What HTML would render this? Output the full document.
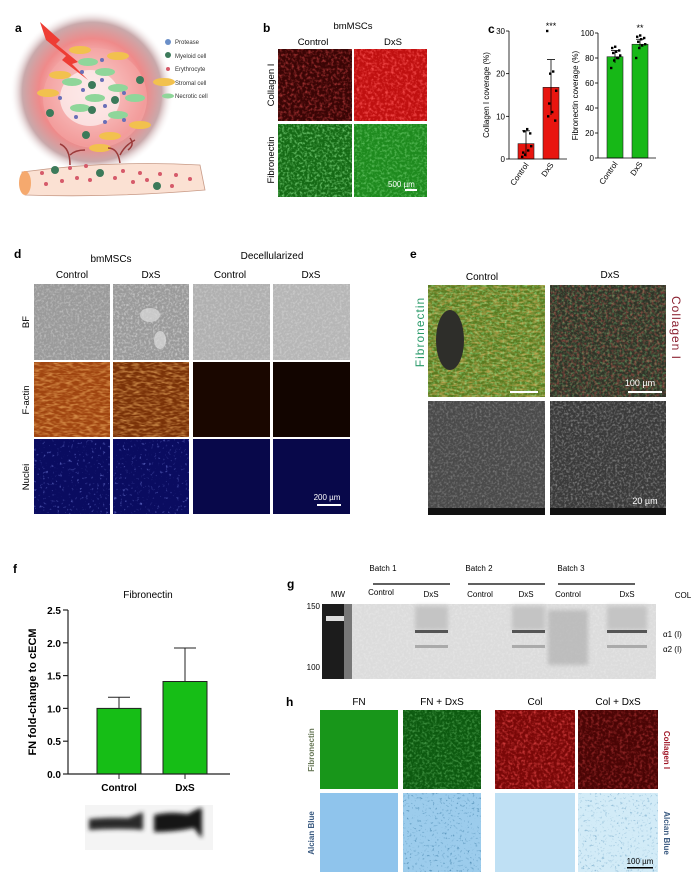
<!DOCTYPE html>
<html><head><meta charset="utf-8"><style>
html,body{margin:0;padding:0;background:#fff;}
svg{display:block;font-family:"Liberation Sans",sans-serif;}
</style></head><body>
<svg id="fig" width="700" height="883" viewBox="0 0 700 883" xmlns="http://www.w3.org/2000/svg">
<defs>
<radialGradient id="glow" cx="0.5" cy="0.5" r="0.5">
<stop offset="0" stop-color="#fff"/><stop offset="0.35" stop-color="#f8c8c8"/><stop offset="0.65" stop-color="#ef8a8a"/><stop offset="0.85" stop-color="#c9a9ab"/><stop offset="1" stop-color="#fff" stop-opacity="0"/></radialGradient>
<filter id="nR" x="0" y="0" width="1" height="1"><feTurbulence type="fractalNoise" baseFrequency="0.35" numOctaves="2" seed="3"/><feColorMatrix values="0 0 0 0 1  0 0 0 0 0.1  0 0 0 0 0.1  2.5 0 0 0 -1.1"/></filter>
<filter id="nG" x="0" y="0" width="1" height="1"><feTurbulence type="fractalNoise" baseFrequency="0.4" numOctaves="2" seed="5"/><feColorMatrix values="0 0 0 0 0.3  0 0 0 0 0.85  0 0 0 0 0.3  2.5 0 0 0 -1.1"/></filter>
<filter id="nO" x="0" y="0" width="1" height="1"><feTurbulence type="fractalNoise" baseFrequency="0.15 0.45" numOctaves="2" seed="7"/><feColorMatrix values="0 0 0 0 0.95  0 0 0 0 0.5  0 0 0 0 0.15  2.5 0 0 0 -1.0"/></filter>
<filter id="nW" x="0" y="0" width="1" height="1"><feTurbulence type="fractalNoise" baseFrequency="0.45" numOctaves="2" seed="9"/><feColorMatrix values="0 0 0 0 1  0 0 0 0 1  0 0 0 0 1  2.5 0 0 0 -1.1"/></filter>
<filter id="nD" x="0" y="0" width="1" height="1"><feTurbulence type="fractalNoise" baseFrequency="0.4" numOctaves="2" seed="11"/><feColorMatrix values="0 0 0 0 0.1  0 0 0 0 0.3  0 0 0 0 0.5  4 0 0 0 -2.4"/></filter>
<filter id="nB" x="0" y="0" width="1" height="1"><feTurbulence type="fractalNoise" baseFrequency="0.35" numOctaves="2" seed="13"/><feColorMatrix values="0 0 0 0 0.25  0 0 0 0 0.3  0 0 0 0 0.9  4 0 0 0 -2.5"/></filter>
<filter id="blur"><feGaussianBlur stdDeviation="2"/></filter>
</defs>

<!-- Panel a -->
<g>
<text x="15" y="32" font-size="12" font-weight="bold">a</text>
<circle cx="92" cy="92" r="82" fill="url(#glow)"/>
<ellipse cx="95" cy="98" rx="52" ry="50" fill="#f5a9a6" opacity="0.6"/>
<ellipse cx="90" cy="98" rx="30" ry="28" fill="#fff" opacity="0.6"/>
<polygon points="40,22 60,40 56,44 78,62 72,64 88,80 62,60 66,56 46,40" fill="#ee3d34"/>
<g fill="#f2c14e"><ellipse cx="80" cy="50" rx="11" ry="4"/><ellipse cx="118" cy="56" rx="11" ry="4"/><ellipse cx="60" cy="75" rx="11" ry="4"/><ellipse cx="48" cy="93" rx="11" ry="4"/><ellipse cx="140" cy="125" rx="11" ry="4"/><ellipse cx="110" cy="136" rx="11" ry="4"/><ellipse cx="100" cy="148" rx="11" ry="4"/><ellipse cx="164" cy="82" rx="11" ry="4"/></g>
<g fill="#8fd69a"><ellipse cx="88" cy="62" rx="10" ry="4"/><ellipse cx="105" cy="72" rx="10" ry="4"/><ellipse cx="72" cy="82" rx="10" ry="4"/><ellipse cx="118" cy="88" rx="10" ry="4"/><ellipse cx="95" cy="98" rx="10" ry="4"/><ellipse cx="135" cy="98" rx="10" ry="4"/><ellipse cx="118" cy="115" rx="10" ry="4"/><ellipse cx="80" cy="108" rx="10" ry="4"/></g>
<g fill="#3c7a5a"><circle cx="92" cy="85" r="4"/><circle cx="140" cy="80" r="4"/><circle cx="115" cy="100" r="4"/><circle cx="92" cy="110" r="4"/><circle cx="50" cy="113" r="4"/><circle cx="86" cy="135" r="4"/></g>
<g fill="#6a6fb8"><circle cx="102" cy="60" r="2"/><circle cx="82" cy="72" r="2"/><circle cx="102" cy="80" r="2"/><circle cx="83" cy="90" r="2"/><circle cx="60" cy="98" r="2"/><circle cx="124" cy="93" r="2"/><circle cx="105" cy="106" r="2"/><circle cx="76" cy="117" r="2"/><circle cx="105" cy="122" r="2"/><circle cx="124" cy="120" r="2"/></g>
<g stroke="#9b3a3a" stroke-width="1.5" fill="none"><path d="M70 165 Q70 148 60 144 M70 155 Q75 150 85 150"/><path d="M120 163 Q118 148 108 148 M120 155 Q125 145 135 140 M128 150 Q135 145 130 138"/></g>
<path d="M22 172 Q110 160 200 165 L205 190 Q110 198 25 195 Z" fill="#fbe1d3" stroke="#c89a86" stroke-width="0.8"/>
<ellipse cx="25" cy="183" rx="6" ry="12" fill="#f5a96e"/>
<g fill="#d65a6a"><circle cx="42" cy="173" r="2"/><circle cx="46" cy="184" r="2"/><circle cx="62" cy="181" r="2"/><circle cx="70" cy="168" r="2"/><circle cx="77" cy="178" r="2"/><circle cx="90" cy="180" r="2"/><circle cx="86" cy="166" r="2"/><circle cx="115" cy="178" r="2"/><circle cx="123" cy="171" r="2"/><circle cx="133" cy="182" r="2"/><circle cx="140" cy="173" r="2"/><circle cx="147" cy="180" r="2"/><circle cx="160" cy="174" r="2"/><circle cx="172" cy="186" r="2"/><circle cx="176" cy="175" r="2"/><circle cx="190" cy="179" r="2"/></g>
<g fill="#3c7a5a"><circle cx="55" cy="170" r="4"/><circle cx="100" cy="173" r="4"/><circle cx="157" cy="186" r="4"/></g>
<g font-size="6" fill="#333">
<circle cx="168" cy="42" r="3" fill="#6a8fc8"/><text x="175" y="44">Protease</text>
<circle cx="168" cy="55" r="3" fill="#3c7a5a"/><text x="175" y="58">Myeloid cell</text>
<circle cx="168" cy="69" r="2" fill="#d65a6a"/><text x="175" y="71">Erythrocyte</text>
<ellipse cx="168" cy="82" rx="6" ry="2.5" fill="#f2c14e"/><text x="175" y="85">Stromal cell</text>
<ellipse cx="168" cy="96" rx="6" ry="2.5" fill="#8fd69a"/><text x="175" y="98">Necrotic cell</text>
</g>
</g>

<!-- Panel b -->
<g>
<text x="263" y="32" font-size="12" font-weight="bold">b</text>
<text x="353" y="29" font-size="9.5" text-anchor="middle">bmMSCs</text>
<text x="313" y="45" font-size="9.5" text-anchor="middle">Control</text>
<text x="393" y="45" font-size="9.5" text-anchor="middle">DxS</text>
<text transform="translate(274,85) rotate(-90)" font-size="9.5" text-anchor="middle">Collagen I</text>
<text transform="translate(274,160) rotate(-90)" font-size="9.5" text-anchor="middle">Fibronectin</text>
<rect x="278" y="49" width="74" height="72" fill="#3a0505"/>
<rect x="278" y="49" width="74" height="72" filter="url(#nR)" opacity="0.5"/>
<rect x="354" y="49" width="73" height="72" fill="#c01010"/>
<rect x="354" y="49" width="73" height="72" filter="url(#nR)" opacity="0.8"/>
<rect x="278" y="124" width="74" height="73" fill="#156a15"/>
<rect x="278" y="124" width="74" height="73" filter="url(#nG)" opacity="0.7"/>
<rect x="354" y="124" width="73" height="73" fill="#1e8a1e"/>
<rect x="354" y="124" width="73" height="73" filter="url(#nG)" opacity="0.5"/>
<text x="388" y="187" font-size="8" fill="#fff">500 µm</text>
<rect x="405" y="189" width="12" height="2" fill="#fff"/>
</g>

<!-- Panel c -->
<g id="panelC">
<text x="488" y="33" font-size="12" font-weight="bold">c</text>
</g>

<!-- Panel d -->
<g>
<text x="14" y="258" font-size="12" font-weight="bold">d</text>
<text x="111" y="262" font-size="10" text-anchor="middle">bmMSCs</text>
<text x="272" y="259" font-size="10" text-anchor="middle">Decellularized</text>
<text x="72" y="278" font-size="10" text-anchor="middle">Control</text>
<text x="151" y="278" font-size="10" text-anchor="middle">DxS</text>
<text x="230" y="278" font-size="10" text-anchor="middle">Control</text>
<text x="311" y="278" font-size="10" text-anchor="middle">DxS</text>
<text transform="translate(29,322) rotate(-90)" font-size="9.5" text-anchor="middle">BF</text>
<text transform="translate(29,400) rotate(-90)" font-size="9.5" text-anchor="middle">F-actin</text>
<text transform="translate(29,477) rotate(-90)" font-size="9.5" text-anchor="middle">Nuclei</text>
<g>
<rect x="34" y="284" width="76" height="76" fill="#9a9a9a"/><rect x="34" y="284" width="76" height="76" filter="url(#nW)" opacity="0.35"/>
<rect x="113" y="284" width="76" height="76" fill="#9a9a9a"/><rect x="113" y="284" width="76" height="76" filter="url(#nW)" opacity="0.45"/>
<ellipse cx="150" cy="315" rx="10" ry="7" fill="#ddd" opacity="0.7"/><ellipse cx="160" cy="340" rx="6" ry="9" fill="#ddd" opacity="0.7"/>
<rect x="193" y="284" width="77" height="76" fill="#b0b0b0"/><rect x="193" y="284" width="77" height="76" filter="url(#nW)" opacity="0.3"/>
<rect x="273" y="284" width="77" height="76" fill="#b6b6b6"/><rect x="273" y="284" width="77" height="76" filter="url(#nW)" opacity="0.3"/>
</g>
<g>
<rect x="34" y="362" width="76" height="75" fill="#a04510"/><rect x="34" y="362" width="76" height="75" filter="url(#nO)" opacity="0.6"/>
<rect x="113" y="362" width="76" height="75" fill="#7a3208"/><rect x="113" y="362" width="76" height="75" filter="url(#nO)" opacity="0.6"/>
<rect x="193" y="362" width="77" height="75" fill="#1a0700"/>
<rect x="273" y="362" width="77" height="75" fill="#120500"/>
</g>
<g>
<rect x="34" y="439" width="76" height="75" fill="#0a0c60"/><rect x="34" y="439" width="76" height="75" filter="url(#nB)" opacity="0.6"/>
<rect x="113" y="439" width="76" height="75" fill="#0a0c60"/><rect x="113" y="439" width="76" height="75" filter="url(#nB)" opacity="0.6"/>
<rect x="193" y="439" width="77" height="75" fill="#08084a"/>
<rect x="273" y="439" width="77" height="75" fill="#08084a"/>
</g>
<text x="327" y="500" font-size="8" fill="#fff" text-anchor="middle">200 µm</text>
<rect x="317" y="504" width="24" height="2" fill="#fff"/>
</g>

<!-- Panel e -->
<g>
<text x="410" y="258" font-size="12" font-weight="bold">e</text>
<text x="482" y="280" font-size="10" text-anchor="middle">Control</text>
<text x="610" y="278" font-size="10" text-anchor="middle">DxS</text>
<text transform="translate(424,332) rotate(-90)" font-size="12" fill="#2a9a6a" text-anchor="middle" letter-spacing="1">Fibronectin</text>
<text transform="translate(672,328) rotate(90)" font-size="12" fill="#8a2030" text-anchor="middle" letter-spacing="1">Collagen I</text>
<rect x="428" y="285" width="117" height="112" fill="#5a7a20"/>
<rect x="428" y="285" width="117" height="112" filter="url(#nO)" opacity="0.6"/>
<rect x="428" y="285" width="117" height="112" filter="url(#nG)" opacity="0.6"/>
<ellipse cx="450" cy="340" rx="14" ry="30" fill="#2e2e2a"/>
<rect x="550" y="285" width="116" height="112" fill="#2e3428"/>
<rect x="550" y="285" width="116" height="112" filter="url(#nG)" opacity="0.4"/>
<rect x="550" y="285" width="116" height="112" filter="url(#nR)" opacity="0.4"/>
<rect x="510" y="391" width="28" height="2" fill="#fff"/>
<text x="640" y="386" font-size="9" fill="#fff" text-anchor="middle">100 µm</text>
<rect x="628" y="391" width="34" height="2" fill="#fff"/>
<rect x="428" y="401" width="117" height="114" fill="#4a4a4a"/>
<rect x="428" y="401" width="117" height="114" filter="url(#nW)" opacity="0.25"/>
<rect x="550" y="401" width="116" height="114" fill="#3a3a3a"/>
<rect x="550" y="401" width="116" height="114" filter="url(#nW)" opacity="0.35"/>
<rect x="428" y="508" width="117" height="7" fill="#111"/><rect x="550" y="508" width="116" height="7" fill="#111"/>
<text x="645" y="504" font-size="9" fill="#fff" text-anchor="middle">20 µm</text>
</g>

<!-- Panel f -->
<g id="panelF">
<text x="13" y="573" font-size="12" font-weight="bold">f</text>
<text x="148" y="598" font-size="10" text-anchor="middle">Fibronectin</text>
<text transform="translate(36,692) rotate(-90)" font-size="11" font-weight="bold" text-anchor="middle">FN fold-change to cECM</text>
<g>
<rect x="85" y="805" width="128" height="45" fill="#f4f4f4"/>
<g filter="url(#blur)">
<path d="M89 819 Q110 817 128 818 Q138 814 143 812 L143 830 Q120 828 89 830 Z" fill="#2a2a2a"/>
<path d="M154 815 Q170 811 188 814 Q198 808 202 808 L202 838 Q198 834 194 828 Q175 832 154 832 Z" fill="#151515"/>
</g>
</g>
</g>

<!-- Panel g -->
<g>
<text x="287" y="588" font-size="12" font-weight="bold">g</text>
<g font-size="8" text-anchor="middle">
<text x="383" y="571">Batch 1</text><text x="479" y="571">Batch 2</text><text x="571" y="571">Batch 3</text>
<text x="338" y="597">MW</text><text x="381" y="595">Control</text><text x="431" y="597">DxS</text>
<text x="480" y="597">Control</text><text x="526" y="597">DxS</text><text x="568" y="597">Control</text><text x="627" y="597">DxS</text>
<text x="683" y="598">COL</text>
</g>
<g stroke="#000" stroke-width="1.2"><line x1="373" y1="584" x2="450" y2="584"/><line x1="468" y1="584" x2="545" y2="584"/><line x1="558" y1="584" x2="635" y2="584"/></g>
<text x="320" y="609" font-size="8" text-anchor="end">150</text>
<text x="320" y="670" font-size="8" text-anchor="end">100</text>
<rect x="322" y="604" width="334" height="75" fill="#dcdcdc"/>
<rect x="322" y="604" width="334" height="75" filter="url(#nW)" opacity="0.25"/>
<rect x="322" y="604" width="22" height="75" fill="#1c1c1c"/>
<rect x="326" y="616" width="28" height="5" fill="#ddd"/>
<rect x="344" y="604" width="8" height="75" fill="#777"/>
<g filter="url(#blur)"><rect x="548" y="610" width="40" height="55" fill="#a8a8a8" opacity="0.6"/>
<rect x="415" y="606" width="33" height="24" fill="#c4c4c4"/><rect x="512" y="606" width="33" height="24" fill="#c4c4c4"/><rect x="607" y="606" width="40" height="24" fill="#c4c4c4"/></g>
<g fill="#555"><rect x="415" y="630" width="33" height="3"/><rect x="512" y="630" width="33" height="3"/><rect x="607" y="630" width="40" height="3"/></g>
<g fill="#aaa"><rect x="415" y="645" width="33" height="3"/><rect x="512" y="645" width="33" height="3"/><rect x="607" y="645" width="40" height="3"/></g>
<text x="663" y="637" font-size="8">α1 (I)</text>
<text x="663" y="652" font-size="8">α2 (I)</text>
</g>

<!-- Panel h -->
<g>
<text x="286" y="706" font-size="12" font-weight="bold">h</text>
<g font-size="10" text-anchor="middle"><text x="359" y="705">FN</text><text x="442" y="705">FN + DxS</text><text x="535" y="705">Col</text><text x="618" y="705">Col + DxS</text></g>
<text transform="translate(314,750) rotate(-90)" font-size="8" font-weight="bold" fill="#6a7a5a" text-anchor="middle">Fibronectin</text>
<text transform="translate(314,833) rotate(-90)" font-size="8" font-weight="bold" fill="#3a5a80" text-anchor="middle">Alcian Blue</text>
<text transform="translate(664,750) rotate(90)" font-size="8" font-weight="bold" fill="#a01828" text-anchor="middle">Collagen I</text>
<text transform="translate(664,833) rotate(90)" font-size="8" font-weight="bold" fill="#3a5a80" text-anchor="middle">Alcian Blue</text>
<rect x="320" y="710" width="78" height="79" fill="#18961a"/>
<rect x="403" y="710" width="78" height="79" fill="#0d5a10"/><rect x="403" y="710" width="78" height="79" filter="url(#nG)" opacity="0.4"/>
<rect x="495" y="710" width="80" height="79" fill="#7a0808"/><rect x="495" y="710" width="80" height="79" filter="url(#nR)" opacity="0.6"/>
<rect x="578" y="710" width="80" height="79" fill="#4a0505"/><rect x="578" y="710" width="80" height="79" filter="url(#nR)" opacity="0.4"/>
<rect x="320" y="793" width="78" height="79" fill="#8fc4ec"/>
<rect x="403" y="793" width="78" height="79" fill="#9cccec"/><rect x="403" y="793" width="78" height="79" filter="url(#nD)"/>
<rect x="495" y="793" width="80" height="79" fill="#bfe0f4"/>
<rect x="578" y="793" width="80" height="79" fill="#d2ebf7"/><rect x="578" y="793" width="80" height="79" filter="url(#nD)" opacity="0.6"/>
<text x="640" y="864" font-size="8" text-anchor="middle">100 µm</text>
<rect x="627" y="867" width="26" height="1.5" fill="#000"/>
</g>
</svg>
<script>
// Panel c data
const cCats = ["Control","DxS"];
const colMeans = [3.6, 16.8];
const colSD = [3.0, 6.5];
const colCtrlPts = [0.5, 1, 2, 3, 6.5, 7, 6, 1.5];
const colDxsPts = [30, 20, 20.5, 16, 13, 11, 9, 10];
const colTicks = [0, 10, 20, 30];
const fibMeans = [81, 91];
const fibSD = [5, 4];
const fibCtrlPts = [72, 78, 80, 82, 84, 85, 86, 88, 89, 80];
const fibDxsPts = [80, 88, 90, 91, 93, 95, 96, 97, 98];
const fibTicks = [0, 20, 40, 60, 80, 100];
const sigLabels = ["***", "**"];
// Panel f data
const fCats = ["Control","DxS"];
const fMeans = [1.0, 1.41];
const fErr = [0.17, 0.51];
const fTicks = [0.0, 0.5, 1.0, 1.5, 2.0, 2.5];

const NS = "http://www.w3.org/2000/svg";
function mk(parent, tag, attrs){
  const e = document.createElementNS(NS, tag);
  for (const k in attrs) e.setAttribute(k, attrs[k]);
  parent.appendChild(e);
  return e;
}
function smallChart(g, x0, y0, y1, max, ticks, means, sds, pts, color, ylabel, sig){
  const ys = v => y0 - (v / max) * (y0 - y1);
  const bx = [x0 + 9, x0 + 34], bw = 16;
  for (let i = 0; i < means.length; i++){
    const r = mk(g, "rect", {x: bx[i], y: ys(means[i]), width: bw, height: y0 - ys(means[i]), fill: color, stroke: "#222", "stroke-width": 0.6});
    
    
    const cx = bx[i] + bw / 2;
    mk(g, "line", {x1: cx, x2: cx, y1: ys(means[i] - sds[i]), y2: ys(means[i] + sds[i]), stroke: "#000", "stroke-width": 0.8});
    mk(g, "line", {x1: cx - 4, x2: cx + 4, y1: ys(means[i] + sds[i]), y2: ys(means[i] + sds[i]), stroke: "#000", "stroke-width": 0.8});
    pts[i].forEach((p, j) => {
      const d = mk(g, "rect", {x: cx - 5 + (j * 3) % 10, y: ys(p) - 1.2, width: 2.4, height: 2.4, fill: "#000"});
      
      
    });
    const t = mk(g, "text", {x: cx, y: y1 - 2, "font-size": 9, "text-anchor": "middle"});
    t.textContent = sig[i] || "";
    
    
    const lab = mk(g, "text", {transform: `translate(${cx + 3},${y0 + 6}) rotate(-55)`, "font-size": 8, "text-anchor": "end"});
    lab.textContent = cCats[i];
    
    
  }
  mk(g, "line", {x1: x0, x2: x0, y1: y1, y2: y0, stroke: "#000", "stroke-width": 0.8});
  mk(g, "line", {x1: x0, x2: x0 + 58, y1: y0, y2: y0, stroke: "#000", "stroke-width": 0.8});
  ticks.forEach(v => {
    mk(g, "line", {x1: x0 - 3, x2: x0, y1: ys(v), y2: ys(v), stroke: "#000", "stroke-width": 0.8});
    const t = mk(g, "text", {x: x0 - 4, y: ys(v) + 3, "font-size": 8, "text-anchor": "end"});
    t.textContent = v;
    
    
  });
  const yl = mk(g, "text", {transform: `translate(${x0 - 20},${(y0 + y1) / 2}) rotate(-90)`, "font-size": 8, "text-anchor": "middle"});
  yl.textContent = ylabel;
  
  
}
const gc = document.getElementById("panelC");
const g1 = mk(gc, "g", {});


smallChart(g1, 509, 159, 31, 30, colTicks, colMeans, colSD, [colCtrlPts, colDxsPts], "#e8150f", "Collagen I coverage (%)", ["", sigLabels[0]]);
const g2 = mk(gc, "g", {});


smallChart(g2, 598, 158, 33, 100, fibTicks, fibMeans, fibSD, [fibCtrlPts, fibDxsPts], "#17b817", "Fibronectin coverage (%)", ["", sigLabels[1]]);

// Panel f chart
const gf = document.getElementById("panelF");
const fy0 = 774, fy1 = 610, fx0 = 68, fmax = 2.5;
const fys = v => fy0 - (v / fmax) * (fy0 - fy1);
const fbx = [97, 163], fbw = 44;
for (let i = 0; i < fMeans.length; i++){
  const cx = fbx[i] + fbw / 2;
  mk(gf, "line", {x1: cx, x2: cx, y1: fys(fMeans[i]), y2: fys(fMeans[i] + fErr[i]), stroke: "#222", "stroke-width": 1});
  mk(gf, "line", {x1: cx - 11, x2: cx + 11, y1: fys(fMeans[i] + fErr[i]), y2: fys(fMeans[i] + fErr[i]), stroke: "#222", "stroke-width": 1});
  const r = mk(gf, "rect", {x: fbx[i], y: fys(fMeans[i]), width: fbw, height: fy0 - fys(fMeans[i]), fill: "#16be16", stroke: "#222", "stroke-width": 1});
  
  
  mk(gf, "line", {x1: cx, x2: cx, y1: fy0, y2: fy0 + 5, stroke: "#222", "stroke-width": 1});
  const t = mk(gf, "text", {x: cx, y: fy0 + 17, "font-size": 10, "font-weight": "bold", "text-anchor": "middle"});
  t.textContent = fCats[i];
  
  
}
mk(gf, "line", {x1: fx0, x2: fx0, y1: fy1, y2: fy0, stroke: "#222", "stroke-width": 1.2});
mk(gf, "line", {x1: fx0, x2: 230, y1: fy0, y2: fy0, stroke: "#222", "stroke-width": 1.2});
fTicks.forEach(v => {
  mk(gf, "line", {x1: fx0 - 5, x2: fx0, y1: fys(v), y2: fys(v), stroke: "#222", "stroke-width": 1.2});
  const t = mk(gf, "text", {x: fx0 - 7, y: fys(v) + 4, "font-size": 10, "font-weight": "bold", "text-anchor": "end"});
  t.textContent = v.toFixed(1);
  
  
});
</script>
</body></html>
